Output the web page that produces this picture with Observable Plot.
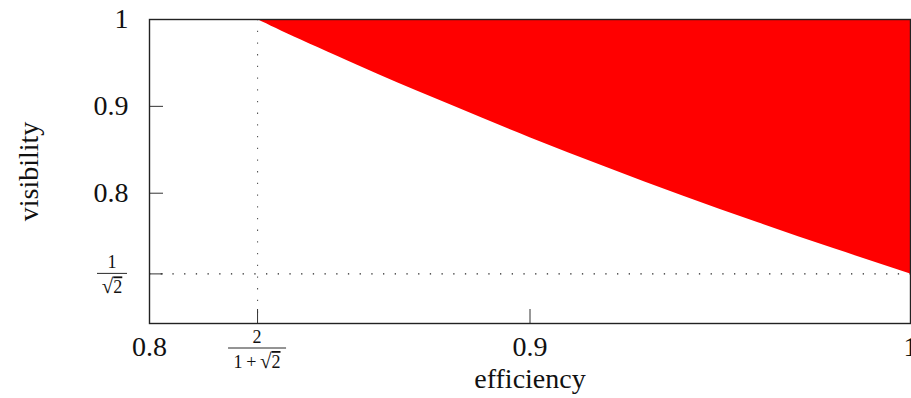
<!DOCTYPE html>
<html><head><meta charset="utf-8">
<script src="https://cdn.jsdelivr.net/npm/d3@7"></script>
<script src="https://cdn.jsdelivr.net/npm/@observablehq/plot@0.6"></script>
<style>body{margin:0;background:#fff} svg{display:block}</style>
</head><body><div id="chart"></div>
<script>
// data
const efficiency = [0.8284, 0.84, 0.86, 0.88, 0.90, 0.92, 0.94, 0.96, 0.98, 1.00];
const visibility = [1.000, 0.976, 0.937, 0.900, 0.864, 0.830, 0.797, 0.766, 0.736, 0.707];
const xTickValues = [0.8, 0.9, 1];
const xTickLabels = ["0.8", "0.9", "1"];
const yTickValues = [1, 0.9, 0.8];
const yTickLabels = ["1", "0.9", "0.8"];
const effThreshold = 0.8284;   // 2/(1+√2)
const visThreshold = 0.7071;   // 1/√2
const xDomain = [0.8, 1];
const yDomain = [0.65, 1];
const xLabel = "efficiency";
const yLabel = "visibility";

const FONT = '"Liberation Serif", "DejaVu Serif", serif';
const topVis = d3.max(visibility);
const data = efficiency.map((e, i) => ({eff: e, vis: visibility[i], top: topVis}));

const plot = Plot.plot({
  width: 911,
  height: 398,
  marginLeft: 149,
  marginRight: 1,
  marginTop: 19,
  marginBottom: 75,
  style: {fontFamily: FONT, background: "#fff", color: "#111"},
  x: {domain: xDomain, label: null},
  y: {domain: yDomain, label: null},
  marks: [
    Plot.areaY(data, {x: "eff", y1: "vis", y2: "top", fill: "#ff0000", curve: "natural"}),
    Plot.ruleX([effThreshold], {stroke: "#555", strokeWidth: 1.1, strokeDasharray: "1.3,10.4"}),
    Plot.ruleY([visThreshold], {stroke: "#222", strokeWidth: 1.1, strokeDasharray: "1.3,10.4"}),
    // inward ticks
    Plot.axisX([effThreshold, 0.9], {anchor: "bottom", tickSize: 14, dy: -14, tickFormat: () => "", stroke: "#333"}),
    Plot.axisY([0.9, 0.8, visThreshold], {anchor: "left", tickSize: 14, dx: 14, tickFormat: () => "", stroke: "#333"}),
    // tick labels
    Plot.axisX(xTickValues, {anchor: "bottom", tickSize: 0, tickPadding: 13, fontSize: 28,
      tickFormat: (d) => xTickLabels[xTickValues.indexOf(d)]}),
    Plot.axisY(yTickValues, {anchor: "left", tickSize: 0, tickPadding: 21, fontSize: 28,
      tickFormat: (d) => yTickLabels[yTickValues.indexOf(d)]}),
    Plot.frame({stroke: "#222", strokeWidth: 1.4}),
    Plot.text([xLabel], {frameAnchor: "bottom", dy: 64, fontSize: 28, text: (d) => d}),
    Plot.text([yLabel], {frameAnchor: "left", dx: -120, rotate: -90, textAnchor: "middle", fontSize: 28, text: (d) => d})
  ]
});

document.getElementById("chart").appendChild(plot);

// fraction tick labels placed with the plot's own scales
const sx = plot.scale("x"), sy = plot.scale("y");
const svg = d3.select(plot);
const g = svg.append("g").attr("font-family", FONT).attr("font-size", 18)
  .attr("text-anchor", "middle").attr("fill", "#111");

function sqrt2(sel) {
  sel.append("tspan").attr("font-size", 21).text("√");
  sel.append("tspan").attr("text-decoration", "overline").text("2");
}
function frac(cx, barY, halfW, numText, denPrefix) {
  g.append("text").attr("x", cx).attr("y", barY - 5).text(numText);
  g.append("line").attr("x1", cx - halfW).attr("x2", cx + halfW)
    .attr("y1", barY).attr("y2", barY).attr("stroke", "#111").attr("stroke-width", 0.9);
  const t = g.append("text").attr("x", cx).attr("y", barY + 20);
  if (denPrefix) t.append("tspan").text(denPrefix);
  sqrt2(t);
}
const bottomY = sy.apply(yDomain[0]);
frac(sx.apply(effThreshold), bottomY + 25, 29, "2", "1\u2009+\u2009");
frac(sx.apply(xDomain[0]) - 37, sy.apply(visThreshold), 15, "1", "");
</script>
</body></html>
